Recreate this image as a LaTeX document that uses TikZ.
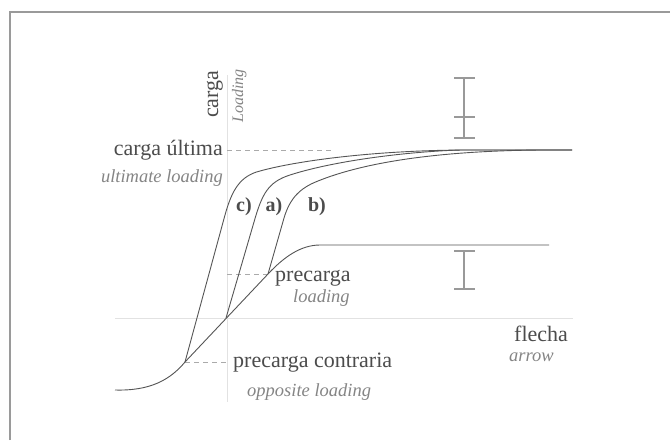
\documentclass[tikz,border=0pt]{standalone}
\usepackage{fontspec}
\setmainfont{Liberation Serif}
\definecolor{txtdark}{HTML}{4C4C4C}
\definecolor{txtlight}{HTML}{858585}
\definecolor{curvecol}{HTML}{555555}
\definecolor{axiscol}{HTML}{E2E2E2}
\definecolor{dashcol}{HTML}{AAAAAA}
\definecolor{barcol}{HTML}{999999}
\definecolor{framecol}{HTML}{9A9A9A}
\tikzset{
  maintxt/.style={text=txtdark,font=\fontsize{22}{26}\selectfont,inner sep=0pt},
  engtxt/.style={text=txtlight,font=\fontsize{18.5}{22}\selectfont\itshape,inner sep=0pt},
  lbltxt/.style={text=txtdark,font=\fontsize{20}{24}\selectfont\bfseries,inner sep=0pt},
  curve/.style={draw=curvecol,line width=0.9pt},
  axisline/.style={draw=axiscol,line width=1pt},
  guide/.style={draw=dashcol,line width=0.8pt,dash pattern=on 5pt off 4pt},
  errbar/.style={draw=barcol,line width=2pt},
  frameline/.style={draw=framecol,line width=1.5pt}
}
\begin{document}
\begin{tikzpicture}[x=1pt,y=-1pt]
\useasboundingbox (0,0) rectangle (670,440);
\fill[white] (0,0) rectangle (670,440);
% frame
\draw[frameline] (10,440) -- (10,12) -- (670,12);
% axes
\draw[axisline] (227,75) -- (227,402);
\draw[axisline] (115,318) -- (573,318);
% guides
\draw[guide] (227,150) -- (332,150);
\draw[guide] (227,274) -- (268,274);
\draw[guide] (185,362) -- (227,362);
% base curve
\draw[curve] (115,390) .. controls (150,391) and (170,380) .. (185,362)
  -- (268,274) .. controls (283,258) and (300,245) .. (320,245) -- (549,245);
% curve c
\draw[curve] (185,362) -- (225,215) .. controls (232,190) and (240,176) .. (260,171)
  .. controls (300,160) and (380,150) .. (470,150) -- (572,150);
% curve a
\draw[curve] (226,318) -- (254,222) .. controls (262,194) and (268,182) .. (290,175)
  .. controls (330,162) and (400,152) .. (460,150) -- (572,150);
% curve b
\draw[curve] (268,274) -- (284,218) .. controls (290,198) and (300,188) .. (318,181)
  .. controls (360,164) and (430,151) .. (540,150) -- (572,150);
% error bars
\draw[errbar] (464,78) -- (464,138);
\draw[errbar] (454,78) -- (475,78);
\draw[errbar] (454,117) -- (475,117);
\draw[errbar] (454,138) -- (475,138);
\draw[errbar] (464,251) -- (464,289);
\draw[errbar] (454,251) -- (475,251);
\draw[errbar] (454,289) -- (475,289);
% texts
\node[maintxt,rotate=90,anchor=base west] (carga) at (218,118) {carga};
\node[engtxt,font=\fontsize{16}{20}\selectfont\itshape,rotate=90,anchor=base west] (loadv) at (243,123) {Loading};
\node[maintxt,anchor=base east] (cult) at (223,155) {carga última};
\node[engtxt,anchor=base east] (ult) at (223,182) {ultimate loading};
\node[lbltxt,anchor=base] (lc) at (244,211) {c)};
\node[lbltxt,anchor=base] (la) at (274,211) {a)};
\node[lbltxt,anchor=base] (lb) at (317,211) {b)};
\node[maintxt,anchor=base west] (prec) at (275,281) {precarga};
\node[engtxt,anchor=base west] (precen) at (293,302) {loading};
\node[maintxt,anchor=base west] (flecha) at (514,341) {flecha};
\node[engtxt,anchor=base west] (arrow) at (509,361) {arrow};
\node[maintxt,anchor=base west] (pcon) at (233,367) {precarga contraria};
\node[engtxt,anchor=base west] (opp) at (247,396) {opposite loading};
\end{tikzpicture}
\end{document}
